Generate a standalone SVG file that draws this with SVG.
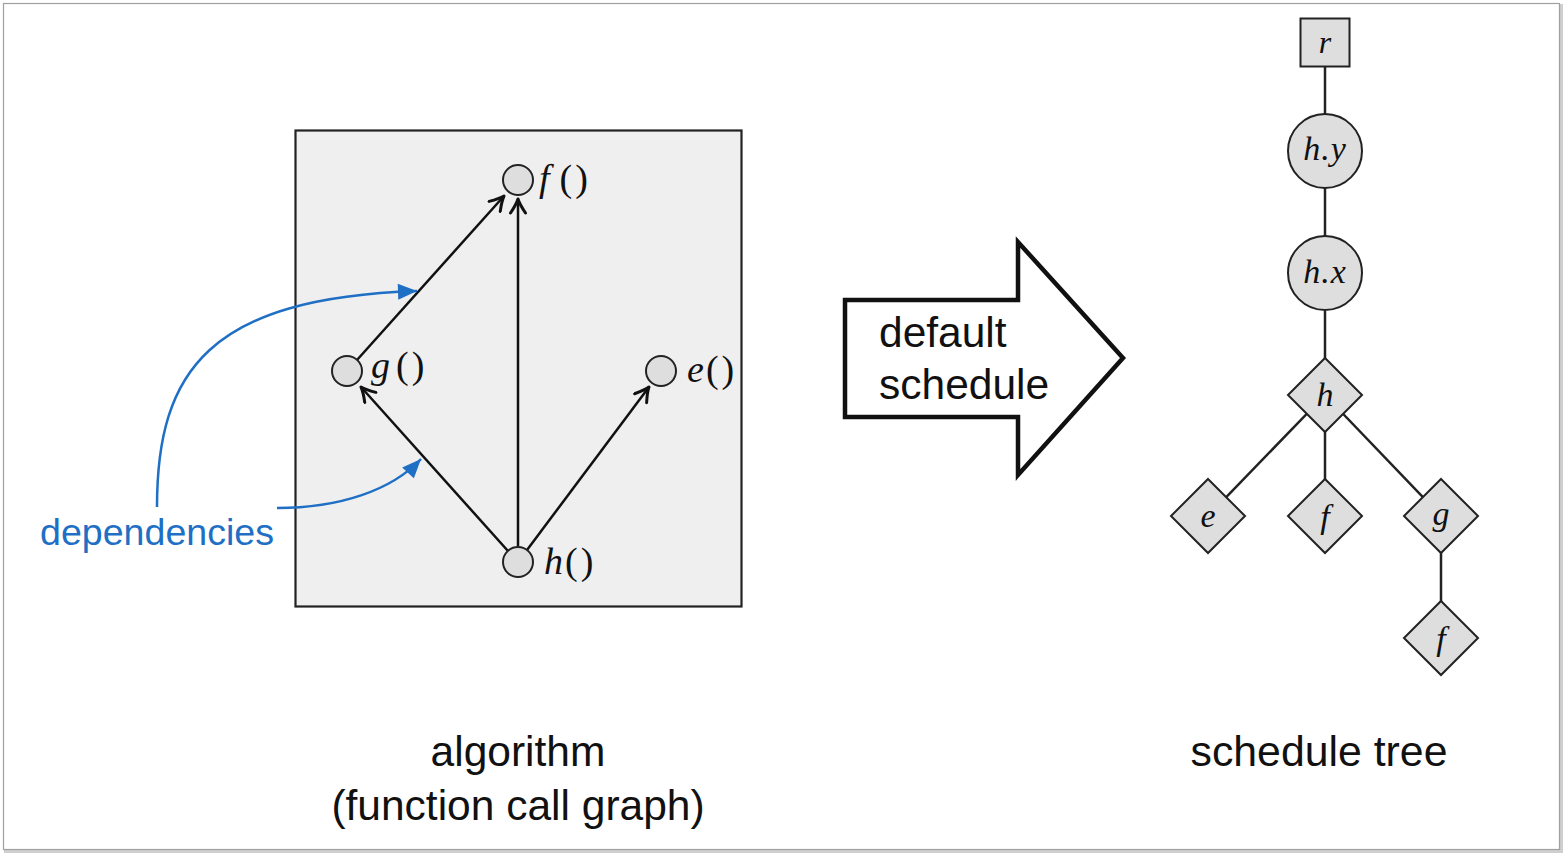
<svg xmlns="http://www.w3.org/2000/svg" width="1564" height="854" viewBox="0 0 1564 854">
<style>
.sans{font-family:"Liberation Sans",Arial,sans-serif;fill:#111}
.math{font-family:"Liberation Serif","Times New Roman",serif;fill:#111}
.it{font-style:italic}
.node{fill:#dedede;stroke:#222;stroke-width:2}
.edge{stroke:#111;stroke-width:2.5;fill:none}
.tree{stroke:#222;stroke-width:2.5;fill:none}
.blue{stroke:#1f6fc5;stroke-width:2.5;fill:none}
</style>
<defs>
<marker id="ah" markerUnits="userSpaceOnUse" viewBox="-16 -9 18 18" refX="0" refY="0" markerWidth="18" markerHeight="18" orient="auto">
<path d="M-14,-7.5 Q-5,-1.5 0,0 Q-5,1.5 -14,7.5" fill="none" stroke="#111" stroke-width="3" stroke-linecap="round" stroke-linejoin="round"/>
</marker>
<marker id="bh" markerUnits="userSpaceOnUse" viewBox="-20 -10 22 20" refX="0" refY="0" markerWidth="22" markerHeight="20" orient="auto">
<path d="M0,0 L-19,-8 L-19,8 Z" fill="#1f6fc5"/>
</marker>
</defs>
<rect x="0" y="0" width="1564" height="854" fill="#ffffff"/>
<g id="frame">
<rect x="5.5" y="5.5" width="1556" height="846" fill="none" stroke="#cfcfcf" stroke-width="3"/>
<rect x="3.5" y="3.5" width="1556" height="846" fill="#fff" stroke="#a0a0a0" stroke-width="1.2"/>
</g>
<g id="algorithm-box">
<rect x="295.5" y="130.5" width="446" height="476" fill="#efefef" stroke="#222" stroke-width="2.2"/>
</g>
<g id="connectors">
<line class="edge" x1="357" y1="360" x2="504" y2="196" marker-end="url(#ah)"/>
<line class="edge" x1="518" y1="546" x2="518" y2="199" marker-end="url(#ah)"/>
<line class="edge" x1="508" y1="551" x2="361" y2="387" marker-end="url(#ah)"/>
<line class="edge" x1="527" y1="550" x2="649" y2="387" marker-end="url(#ah)"/>
<path class="blue" d="M157,507 C157,370 210,298 417,291" marker-end="url(#bh)"/>
<path class="blue" d="M277,508 C340,508 392,490 421,459" marker-end="url(#bh)"/>
<line class="tree" x1="1325" y1="66" x2="1325" y2="114"/>
<line class="tree" x1="1325" y1="188" x2="1325" y2="236"/>
<line class="tree" x1="1325" y1="311" x2="1325" y2="358"/>
<line class="tree" x1="1325" y1="395" x2="1208" y2="516"/>
<line class="tree" x1="1325" y1="395" x2="1325" y2="516"/>
<line class="tree" x1="1325" y1="395" x2="1441" y2="516"/>
<line class="tree" x1="1441" y1="516" x2="1441" y2="638"/>
</g>
<g id="node-f">
<circle class="node" cx="518" cy="180" r="15"/>
<text class="math" x="539" y="191" font-size="38"><tspan class="it">f</tspan><tspan dx="10">(</tspan><tspan dx="3">)</tspan></text>
</g>
<g id="node-g">
<circle class="node" cx="347" cy="371" r="15"/>
<text class="math" x="371" y="378" font-size="38"><tspan class="it">g</tspan><tspan dx="6">(</tspan><tspan dx="3">)</tspan></text>
</g>
<g id="node-e">
<circle class="node" cx="661" cy="371" r="15"/>
<text class="math" x="687" y="382" font-size="38"><tspan class="it">e</tspan><tspan dx="2">(</tspan><tspan dx="3">)</tspan></text>
</g>
<g id="node-h">
<circle class="node" cx="518" cy="562" r="15"/>
<text class="math" x="544" y="574" font-size="38"><tspan class="it">h</tspan><tspan dx="2">(</tspan><tspan dx="3">)</tspan></text>
</g>
<g id="label-dependencies">
<text class="sans" x="40" y="545" font-size="37.6" style="fill:#1f6fc5">dependencies</text>
</g>
<g id="label-algorithm">
<text class="sans" x="518" y="766" font-size="42.5" text-anchor="middle">algorithm</text>
<text class="sans" x="518" y="820" font-size="42.5" text-anchor="middle">(function call graph)</text>
</g>
<g id="big-arrow">
<polygon points="845,300 1018,300 1018,242 1123,358 1018,475 1018,417 845,417" fill="#fff" stroke="#111" stroke-width="4.5" stroke-linejoin="miter"/>
<text class="sans" x="879" y="347" font-size="42.5">default</text>
<text class="sans" x="879" y="399" font-size="42.5">schedule</text>
</g>
<g id="tree-r">
<rect class="node" x="1300.5" y="18.5" width="49" height="48"/>
<text class="math it" x="1325" y="53" font-size="32" text-anchor="middle">r</text>
</g>
<g id="tree-hy">
<circle class="node" cx="1325" cy="151" r="37"/>
<text class="math it" x="1325" y="160" font-size="34" text-anchor="middle" letter-spacing="1">h.y</text>
</g>
<g id="tree-hx">
<circle class="node" cx="1325" cy="273" r="37"/>
<text class="math it" x="1325" y="283" font-size="34" text-anchor="middle" letter-spacing="1">h.x</text>
</g>
<g id="tree-h">
<polygon class="node" points="1325,358 1362,395 1325,432 1288,395"/>
<text class="math it" x="1325" y="406" font-size="34" text-anchor="middle">h</text>
</g>
<g id="tree-e">
<polygon class="node" points="1208,479 1245,516 1208,553 1171,516"/>
<text class="math it" x="1208" y="527" font-size="34" text-anchor="middle">e</text>
</g>
<g id="tree-f1">
<polygon class="node" points="1325,479 1362,516 1325,553 1288,516"/>
<text class="math it" x="1325" y="528" font-size="34" text-anchor="middle">f</text>
</g>
<g id="tree-g">
<polygon class="node" points="1441,479 1478,516 1441,553 1404,516"/>
<text class="math it" x="1441" y="525" font-size="34" text-anchor="middle">g</text>
</g>
<g id="tree-f2">
<polygon class="node" points="1441,601 1478,638 1441,675 1404,638"/>
<text class="math it" x="1441" y="650" font-size="34" text-anchor="middle">f</text>
</g>
<g id="label-schedule-tree">
<text class="sans" x="1319" y="766" font-size="42.8" text-anchor="middle">schedule tree</text>
</g>
</svg>
